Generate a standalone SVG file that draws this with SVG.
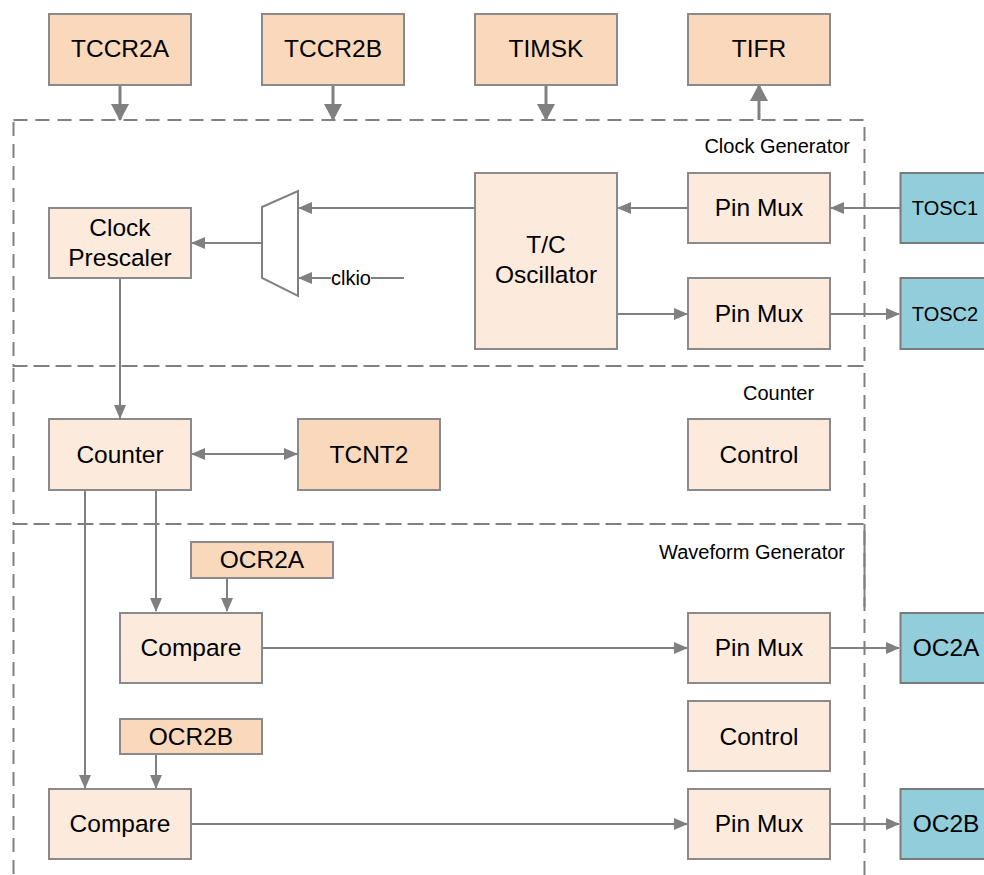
<svg xmlns="http://www.w3.org/2000/svg" width="984" height="875" viewBox="0 0 984 875">
<defs>
<style>
.reg{fill:#F9D8BB;stroke:#8A8A8A;stroke-width:2}
.blk{fill:#FCEADC;stroke:#8A8A8A;stroke-width:2}
.pin{fill:#92CDDB;stroke:#7A7A7A;stroke-width:2}
.dash{fill:none;stroke:#808080;stroke-width:2;stroke-dasharray:14 8}
.t{font-family:"Liberation Sans",Arial,sans-serif;font-size:24.5px;fill:#000;text-anchor:middle}
.ts{font-family:"Liberation Sans",Arial,sans-serif;font-size:20px;fill:#000}
.c{fill:none;stroke:#808080;stroke-width:2}
.cb{fill:none;stroke:#808080;stroke-width:3}
</style>
<marker id="a" markerUnits="userSpaceOnUse" markerWidth="14" markerHeight="12" viewBox="0 0 14 12" refX="13" refY="6" orient="auto-start-reverse">
<path d="M0,0 L14,6 L0,12 Z" fill="#808080"/>
</marker>
<marker id="ab" markerUnits="userSpaceOnUse" markerWidth="17" markerHeight="18" viewBox="0 0 17 18" refX="16" refY="9" orient="auto">
<path d="M0,0 L17,9 L0,18 Z" fill="#808080"/>
</marker>
</defs>
<rect width="984" height="875" fill="#fff"/>

<g id="sections">
<rect class="dash" x="13.5" y="120" width="851" height="246"/>
<rect class="dash" x="13.5" y="366" width="851" height="158"/>
<rect class="dash" x="13.5" y="524" width="851" height="380"/>
<line x1="864.5" y1="524" x2="864.5" y2="607" stroke="#808080" stroke-width="2"/>
<text class="ts" x="850" y="153" text-anchor="end">Clock Generator</text>
<text class="ts" x="743" y="400">Counter</text>
<text class="ts" x="659" y="559">Waveform Generator</text>
</g>

<g id="connectors">
<line class="cb" x1="120" y1="85" x2="120" y2="120" marker-end="url(#ab)"/>
<line class="cb" x1="333" y1="85" x2="333" y2="120" marker-end="url(#ab)"/>
<line class="cb" x1="546" y1="85" x2="546" y2="120" marker-end="url(#ab)"/>
<line class="cb" x1="759" y1="120" x2="759" y2="85" marker-end="url(#ab)"/>
<line class="c" x1="900" y1="208" x2="831" y2="208" marker-end="url(#a)"/>
<line class="c" x1="688" y1="208" x2="618" y2="208" marker-end="url(#a)"/>
<line class="c" x1="475" y1="208" x2="299" y2="208" marker-end="url(#a)"/>
<line class="c" x1="404" y1="278" x2="371" y2="278"/>
<line class="c" x1="331" y1="278" x2="299" y2="278" marker-end="url(#a)"/>
<line class="c" x1="262" y1="243" x2="192" y2="243" marker-end="url(#a)"/>
<line class="c" x1="617" y1="314" x2="687" y2="314" marker-end="url(#a)"/>
<line class="c" x1="830" y1="314" x2="899" y2="314" marker-end="url(#a)"/>
<line class="c" x1="120" y1="278" x2="120" y2="418" marker-end="url(#a)"/>
<line class="c" x1="192" y1="454" x2="297" y2="454" marker-start="url(#a)" marker-end="url(#a)"/>
<line class="c" x1="156" y1="490" x2="156" y2="611" marker-end="url(#a)"/>
<line class="c" x1="227" y1="578" x2="227" y2="611" marker-end="url(#a)"/>
<line class="c" x1="85" y1="490" x2="85" y2="788" marker-end="url(#a)"/>
<line class="c" x1="156" y1="754" x2="156" y2="788" marker-end="url(#a)"/>
<line class="c" x1="262" y1="648" x2="687" y2="648" marker-end="url(#a)"/>
<line class="c" x1="830" y1="648" x2="899" y2="648" marker-end="url(#a)"/>
<line class="c" x1="191" y1="824" x2="687" y2="824" marker-end="url(#a)"/>
<line class="c" x1="830" y1="824" x2="899" y2="824" marker-end="url(#a)"/>
<text class="ts" x="351" y="285" text-anchor="middle" font-size="19">clkio</text>
</g>

<g id="TCCR2A"><rect class="reg" x="49" y="14" width="142" height="71"/><text class="t" x="120" y="57">TCCR2A</text></g>
<g id="TCCR2B"><rect class="reg" x="262" y="14" width="142" height="71"/><text class="t" x="333" y="57">TCCR2B</text></g>
<g id="TIMSK"><rect class="reg" x="475" y="14" width="142" height="71"/><text class="t" x="546" y="57">TIMSK</text></g>
<g id="TIFR"><rect class="reg" x="688" y="14" width="142" height="71"/><text class="t" x="759" y="57">TIFR</text></g>

<g id="ClockPrescaler"><rect class="blk" x="49" y="208" width="142" height="70"/><text class="t" x="120" y="236">Clock</text><text class="t" x="120" y="266">Prescaler</text></g>
<g id="ClockMux"><polygon points="262,207 298,191 298,296 262,278" fill="#fff" stroke="#808080" stroke-width="2"/></g>
<g id="TCOscillator"><rect class="blk" x="475" y="173" width="142" height="176"/><text class="t" x="546" y="253">T/C</text><text class="t" x="546" y="283">Oscillator</text></g>
<g id="PinMux1"><rect class="blk" x="688" y="173" width="142" height="70"/><text class="t" x="759" y="216">Pin Mux</text></g>
<g id="PinMux2"><rect class="blk" x="688" y="278" width="142" height="71"/><text class="t" x="759" y="322">Pin Mux</text></g>
<g id="TOSC1"><rect class="pin" x="900.5" y="173" width="100" height="70"/><text class="ts" x="945" y="215" text-anchor="middle">TOSC1</text></g>
<g id="TOSC2"><rect class="pin" x="900.5" y="278" width="100" height="71"/><text class="ts" x="945" y="321" text-anchor="middle">TOSC2</text></g>

<g id="Counter"><rect class="blk" x="49" y="419" width="142" height="71"/><text class="t" x="120" y="463">Counter</text></g>
<g id="TCNT2"><rect class="reg" x="298" y="419" width="142" height="71"/><text class="t" x="369" y="463">TCNT2</text></g>
<g id="Control1"><rect class="blk" x="688" y="419" width="142" height="71"/><text class="t" x="759" y="463">Control</text></g>

<g id="OCR2A"><rect class="reg" x="191" y="542" width="142" height="36"/><text class="t" x="262" y="568">OCR2A</text></g>
<g id="Compare1"><rect class="blk" x="120" y="613" width="142" height="70"/><text class="t" x="191" y="656">Compare</text></g>
<g id="PinMux3"><rect class="blk" x="688" y="613" width="142" height="70"/><text class="t" x="759" y="656">Pin Mux</text></g>
<g id="OC2A"><rect class="pin" x="900.5" y="613" width="100" height="70"/><text class="t" x="946" y="656">OC2A</text></g>
<g id="Control2"><rect class="blk" x="688" y="701" width="142" height="70"/><text class="t" x="759" y="745">Control</text></g>
<g id="OCR2B"><rect class="reg" x="120" y="719" width="142" height="35"/><text class="t" x="191" y="745">OCR2B</text></g>
<g id="Compare2"><rect class="blk" x="49" y="789" width="142" height="70"/><text class="t" x="120" y="832">Compare</text></g>
<g id="PinMux4"><rect class="blk" x="688" y="789" width="142" height="70"/><text class="t" x="759" y="832">Pin Mux</text></g>
<g id="OC2B"><rect class="pin" x="900.5" y="789" width="100" height="70"/><text class="t" x="946" y="832">OC2B</text></g>
</svg>
